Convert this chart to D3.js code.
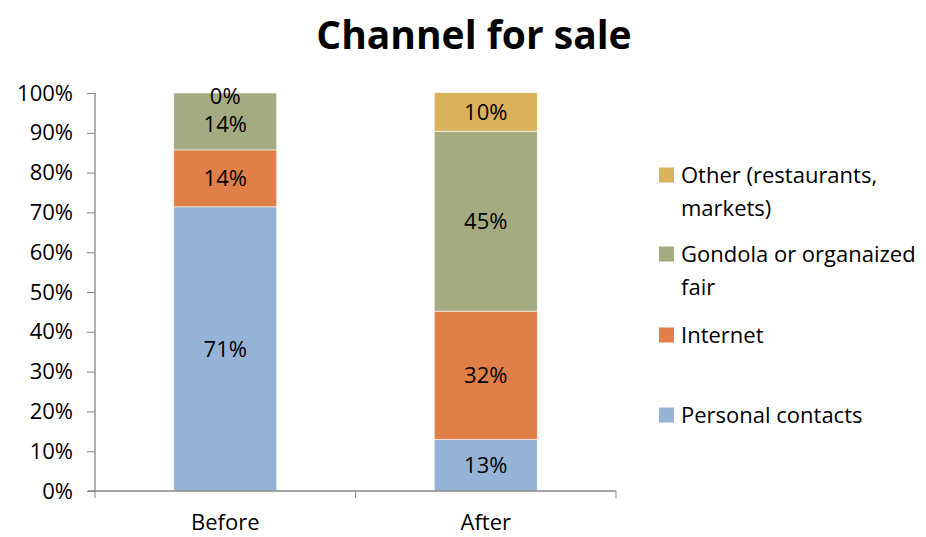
<!DOCTYPE html>
<html><head><meta charset="utf-8">
<script src="https://cdn.jsdelivr.net/npm/d3@7"></script>
<style>body{margin:0;background:#fff}svg{font-family:"Open Sans",sans-serif}</style>
</head><body><svg id="c" width="926" height="537"></svg>
<script>
const categories = ["Before", "After"];
const seriesNames = ["Personal contacts", "Internet", "Gondola or organaized fair", "Other (restaurants, markets)"];
const personal = [71.4, 12.9];
const internet = [14.3, 32.3];
const gondola = [14.3, 45.2];
const other = [0, 9.7];
const labels = [["71%", "13%"], ["14%", "32%"], ["14%", "45%"], ["0%", "10%"]];
const yTicks = [0,10,20,30,40,50,60,70,80,90,100];
const colors = ["#95B3D7", "#E07F47", "#A4AB80", "#DBB25B"];
const legendLines = [["Other (restaurants,", "markets)"], ["Gondola or organaized", "fair"], ["Internet"], ["Personal contacts"]];

const FONT = "'Open Sans',sans-serif";
const svg = d3.select("#c");
const x = d3.scaleBand().domain(categories).range([95, 616]).paddingInner(0).paddingOuter(0);
const y = d3.scaleLinear().domain([0, 100]).range([491, 93]);
const series = [personal, internet, gondola, other];

svg.append("text").attr("x", 474).attr("y", 49).attr("text-anchor", "middle")
  .attr("font-size", 39).attr("font-weight", "bold").text("Channel for sale");

const barW = 103;
series.forEach((vals, si) => {
  categories.forEach((c, ci) => {
    const base = d3.sum(series.slice(0, si), s => s[ci]);
    const top = base + vals[ci];
    const cx = x(c) + x.bandwidth() / 2;
    svg.append("rect").attr("x", cx - barW / 2).attr("width", barW)
      .attr("y", y(top)).attr("height", y(base) - y(top))
      .attr("fill", colors[si]).attr("stroke", "#fff").attr("stroke-width", vals[ci] > 0 ? 0.6 : 0);
  });
});
series.forEach((vals, si) => {
  categories.forEach((c, ci) => {
    const base = d3.sum(series.slice(0, si), s => s[ci]);
    const mid = base + vals[ci] / 2;
    const cx = x(c) + x.bandwidth() / 2;
    let yy = y(mid);
    if (vals[ci] === 0) yy += 3; else if (si === 2 && ci === 0) yy += 3;
    svg.append("text").attr("x", cx).attr("y", yy).attr("dy", "0.36em").attr("text-anchor", "middle")
      .attr("font-size", 22).attr("fill", "#000").text(labels[si][ci]);
  });
});

const yAxis = svg.append("g").attr("transform", "translate(95,0)")
  .call(d3.axisLeft(y).tickValues(yTicks).tickSize(8).tickPadding(14).tickFormat(d => d + "%"));
const xAxis = svg.append("g").attr("transform", "translate(0,491)")
  .call(d3.axisBottom(x).tickSize(0).tickPadding(23));
xAxis.selectAll(".tick line").remove();
const bounds = [x.range()[0], x(categories[1]), x.range()[1]];
xAxis.selectAll(".bt").data(bounds).enter().append("line").attr("class", "bt")
  .attr("x1", d => d).attr("x2", d => d).attr("y1", 0).attr("y2", 7).attr("stroke", "#868686");
[yAxis, xAxis].forEach(g => {
  g.select(".domain").attr("stroke", "#868686").attr("stroke-width", 1.3);
  g.selectAll(".tick line").attr("stroke", "#868686");
  g.selectAll("text").attr("font-size", 22).attr("fill", "#000").attr("font-family", FONT);
});
yAxis.select(".domain").attr("d", "M0,93V491");
xAxis.select(".domain").attr("d", "M88,0H616");

const legY = [175, 254, 335, 415];
const lg = svg.append("g");
legendLines.forEach((lines, i) => {
  const ci = 3 - i;
  lg.append("rect").attr("x", 659).attr("y", legY[i] - 7.5).attr("width", 15).attr("height", 15).attr("fill", colors[ci]);
  lines.forEach((t, j) => {
    lg.append("text").attr("x", 681).attr("y", legY[i] + j * 33).attr("dy", "0.36em")
      .attr("font-size", 22).attr("fill", "#000").text(t);
  });
});
</script></body></html>
